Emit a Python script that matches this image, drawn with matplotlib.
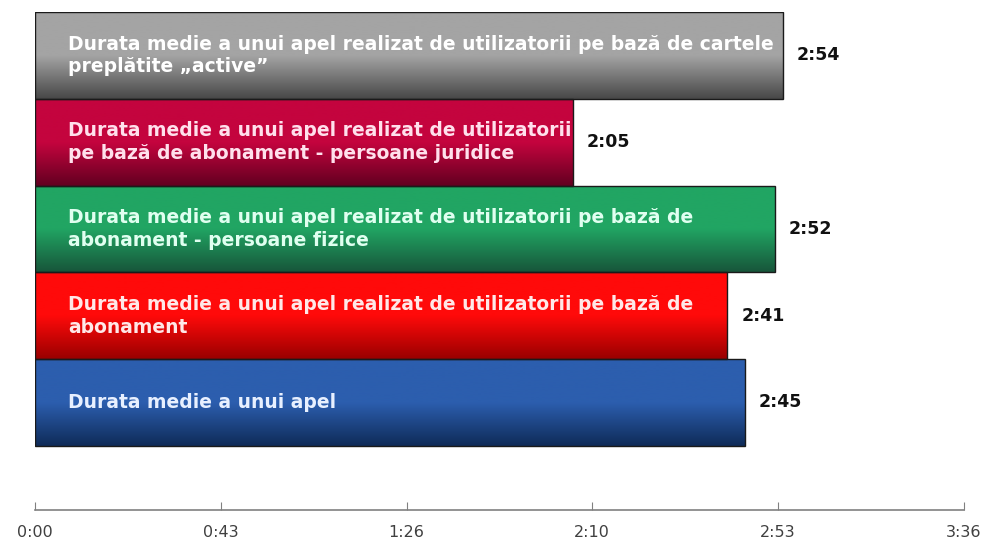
import numpy as np
import matplotlib.pyplot as plt
from matplotlib.colors import LinearSegmentedColormap

# bottom to top
labels = [
    "Durata medie a unui apel",
    "Durata medie a unui apel realizat de utilizatorii pe bază de\nabonament",
    "Durata medie a unui apel realizat de utilizatorii pe bază de\nabonament - persoane fizice",
    "Durata medie a unui apel realizat de utilizatorii\npe bază de abonament - persoane juridice",
    "Durata medie a unui apel realizat de utilizatorii pe bază de cartele\npreplătite „active”",
]
values_sec = [165, 161, 172, 125, 174]  # 2:45, 2:41, 2:52, 2:05, 2:54
top_colors = ["#2c5eae", "#ff0a0a", "#21a563", "#c4043e", "#a4a4a4"]
bottom_colors = ["#0f2b58", "#990000", "#17553a", "#620020", "#474747"]
text_colors = ["#e8f0ff", "#ffe8e8", "#e0fff0", "#ffe0ec", "#ffffff"]

tick_step = 43.2
x_max = 216


def fmt_time(s):
    s = int(round(s))
    return f"{s // 60}:{s % 60:02d}"


fig = plt.figure(figsize=(9.87, 5.49), dpi=100)
ax = fig.add_axes([0.0355, 0.071, 0.941, 0.907])

y = np.arange(len(values_sec))
bars = ax.barh(y, values_sec, height=1.0, color="none", edgecolor="#1a1a1a", linewidth=1.0, zorder=3)

grad = np.linspace(0, 1, 256).reshape(-1, 1)
for i, b in enumerate(bars):
    cmap = LinearSegmentedColormap.from_list(f"g{i}", [bottom_colors[i], top_colors[i], top_colors[i]])
    x0, y0 = b.get_x(), b.get_y()
    im = ax.imshow(grad, cmap=cmap, aspect="auto", origin="lower",
                   extent=[x0, x0 + b.get_width(), y0, y0 + b.get_height()], zorder=2)
    im.set_clip_path(b)
    ax.text(7.7, y[i], labels[i], color=text_colors[i], fontsize=13.5, fontweight="bold",
            va="center", ha="left", linespacing=1.25, zorder=4)
    ax.annotate(fmt_time(values_sec[i]), (values_sec[i], y[i]), xytext=(10, 0),
                textcoords="offset points", va="center", ha="left",
                fontsize=12.5, fontweight="bold", color="#111111")

ax.set_xlim(0, x_max)
ax.set_ylim(-1.24, 4.5)
ticks = np.arange(0, x_max + 0.1, tick_step)
ax.set_xticks(ticks)
ax.set_xticklabels([fmt_time(t) for t in ticks], fontsize=11.5, color="#404040")
ax.set_yticks([])
for side in ["top", "right", "left"]:
    ax.spines[side].set_visible(False)
ax.spines["bottom"].set_color("#808080")
ax.spines["bottom"].set_linewidth(1.2)
ax.tick_params(axis="x", direction="in", length=6, color="#808080", pad=11)

fig.savefig("out.png", dpi=100)
